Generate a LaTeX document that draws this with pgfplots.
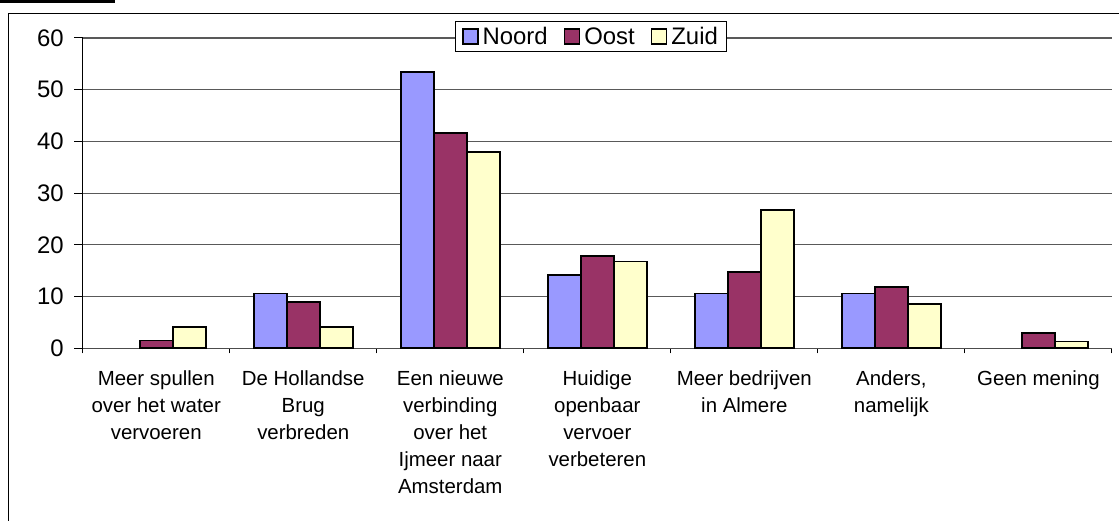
\documentclass[border=0pt]{standalone}
\usepackage{fontspec}
\setmainfont{Liberation Sans}
\usepackage{pgfplots}
\pgfplotsset{compat=1.18}
\definecolor{noord}{HTML}{9999FF}
\definecolor{oost}{HTML}{993366}
\definecolor{zuid}{HTML}{FFFFCC}
\begin{document}
\begin{tikzpicture}[x=1bp,y=1bp]
\useasboundingbox (0,0) rectangle (1119,521);
\begin{scope}
\clip (0,0) rectangle (1119,521);
\draw[black, line width=1.2bp] (8.5,-20) -- (8.5,507.7) -- (1140,507.7);
\fill[black] (0,518.3) rectangle (115,521);
\end{scope}
\begin{axis}[
  at={(82.7bp,172.7bp)}, anchor=south west,
  scale only axis, width=1029.3bp, height=310.3bp,
  xmin=-0.5, xmax=6.5, ymin=0, ymax=60,
  ybar=0pt, bar width=33bp,
  axis x line*=bottom, axis y line*=left,
  x axis line style={draw=gray!60!black, line width=1.2bp},
  y axis line style={draw=black, line width=1.2bp},
  ytick={0,10,...,60},
  ymajorgrids, grid style={draw=gray!70!black, line width=1.1bp},
  xtick={0,...,6},
  major x tick style={draw=none},
  minor xtick={-0.5,0.5,...,6.5},
  minor x tick style={draw=black, line width=1bp},
  minor tick length=5bp,
  major y tick style={draw=black, line width=1bp},
  major tick length=8.5bp,
  tick align=outside,
  xticklabels={{Meer spullen\\over het water\\vervoeren},{De Hollandse\\Brug\\verbreden},{Een nieuwe\\verbinding\\over het\\Ijmeer naar\\Amsterdam},{Huidige\\openbaar\\vervoer\\verbeteren},{Meer bedrijven\\in Almere},{Anders,\\namelijk},{Geen mening}},
  xticklabel style={align=center, font=\fontsize{20.5}{27.3}\selectfont, anchor=north, yshift=-10bp},
  yticklabel style={font=\fontsize{24}{28}\selectfont, xshift=-7bp},
  /pgf/number format/assume math mode=true,
  legend columns=3,
  legend style={at={(0.4938,1.0048)}, anchor=center, draw=black, line width=1bp, fill=white,
    font=\fontsize{24}{28}\selectfont, inner xsep=7bp, inner ysep=4bp,
    /tikz/every odd column/.append style={column sep=2bp},
    /tikz/every even column/.append style={column sep=14bp}},
  legend image code/.code={\draw[#1, draw=black, line width=1.6bp] (0bp,-7.5bp) rectangle (15bp,7.5bp);},
]
\addplot[fill=noord, draw=black, line width=1.8bp] coordinates {(1,10.6) (2,53.5) (3,14.1) (4,10.6) (5,10.6)};
\addplot[fill=oost, draw=black, line width=1.8bp] coordinates {(0,1.5) (1,9.0) (2,41.7) (3,17.8) (4,14.8) (5,11.9) (6,2.9)};
\addplot[fill=zuid, draw=black, line width=1.8bp] coordinates {(0,4.1) (1,4.1) (2,37.9) (3,16.8) (4,26.8) (5,8.5) (6,1.3)};
\legend{Noord,Oost,Zuid}
\end{axis}
\end{tikzpicture}
\end{document}
